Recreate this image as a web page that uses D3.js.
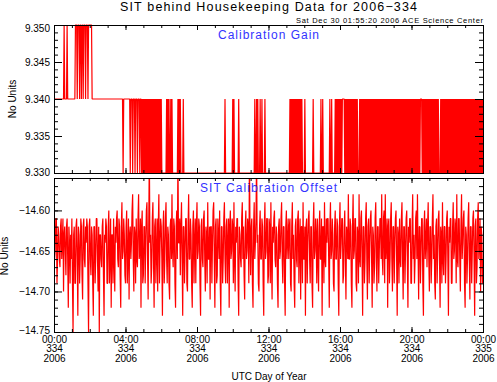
<!DOCTYPE html>
<html><head><meta charset="utf-8">
<script src="https://cdn.jsdelivr.net/npm/d3@7"></script>
<style>body{margin:0;background:#fff}svg{display:block}</style>
</head><body><svg id="c" width="497" height="382"></svg>
<script>
const titleText = "SIT behind Housekeeping Data for 2006\u2212334";
const subtitleText = "Sat Dec 30 01:55:20 2006 ACE Science Center";
const gainName = "Calibration Gain";
const offsetName = "SIT Calibration Offset";
const yTitle = "No Units";
const xTitle = "UTC Day of Year";
const hourTicks = [0, 4, 8, 12, 16, 20, 24];
const hourMinorTicks = [0,1,2,3,4,5,6,7,8,9,10,11,12,13,14,15,16,17,18,19,20,21,22,23,24];
const hourLabels = [["00:00","334","2006"],["04:00","334","2006"],["08:00","334","2006"],["12:00","334","2006"],["16:00","334","2006"],["20:00","334","2006"],["00:00","335","2006"]];
const gainTicks = [9.330, 9.335, 9.340, 9.345, 9.350];
const gainTickLabels = ["9.330", "9.335", "9.340", "9.345", "9.350"];
const offsetTicks = [-14.75, -14.70, -14.65, -14.60];
const offsetTickLabels = ["\u221214.75", "\u221214.70", "\u221214.65", "\u221214.60"];

// samples every 2 minutes, 00:00 to 24:00
const gainValues = [
9.34,9.34,9.34,9.34,9.34,9.34,9.34,9.34,9.34,9.34,9.34,9.34,9.34,9.34,9.34,9.34,9.34,9.35,9.34,9.34,
9.34,9.34,9.35,9.34,9.34,9.34,9.34,9.34,9.34,9.34,9.34,9.34,9.34,9.34,9.34,9.34,9.35,9.35,9.35,9.34,
9.35,9.35,9.35,9.34,9.35,9.35,9.34,9.35,9.35,9.34,9.35,9.35,9.35,9.34,9.35,9.35,9.35,9.34,9.35,9.35,
9.35,9.35,9.35,9.35,9.34,9.34,9.34,9.34,9.34,9.34,9.34,9.34,9.34,9.34,9.34,9.34,9.34,9.34,9.34,9.34,
9.34,9.34,9.34,9.34,9.34,9.34,9.34,9.34,9.34,9.34,9.34,9.34,9.34,9.34,9.34,9.34,9.34,9.34,9.34,9.34,
9.34,9.34,9.34,9.34,9.34,9.34,9.34,9.34,9.34,9.34,9.34,9.34,9.34,9.34,9.34,9.34,9.33,9.34,9.34,9.34,
9.34,9.34,9.34,9.34,9.34,9.34,9.34,9.34,9.33,9.34,9.34,9.34,9.33,9.34,9.34,9.34,9.33,9.34,9.34,9.34,
9.33,9.34,9.34,9.34,9.33,9.34,9.34,9.33,9.34,9.33,9.34,9.33,9.34,9.33,9.34,9.33,9.34,9.33,9.34,9.33,
9.34,9.33,9.34,9.33,9.34,9.33,9.34,9.33,9.34,9.33,9.34,9.33,9.34,9.33,9.34,9.33,9.34,9.33,9.34,9.33,
9.34,9.33,9.33,9.33,9.33,9.33,9.33,9.33,9.33,9.34,9.33,9.34,9.33,9.34,9.33,9.33,9.34,9.33,9.34,9.33,
9.33,9.33,9.33,9.33,9.33,9.33,9.33,9.33,9.34,9.33,9.34,9.33,9.34,9.33,9.33,9.33,9.33,9.34,9.33,9.33,
9.33,9.33,9.33,9.33,9.33,9.33,9.33,9.33,9.33,9.33,9.33,9.33,9.33,9.33,9.33,9.33,9.33,9.33,9.33,9.33,
9.33,9.33,9.33,9.33,9.33,9.33,9.33,9.33,9.33,9.33,9.33,9.33,9.33,9.33,9.33,9.33,9.33,9.33,9.33,9.33,
9.33,9.33,9.33,9.33,9.33,9.33,9.33,9.33,9.33,9.33,9.33,9.33,9.33,9.33,9.33,9.33,9.33,9.33,9.33,9.33,
9.33,9.33,9.33,9.33,9.33,9.33,9.33,9.34,9.33,9.33,9.33,9.33,9.33,9.33,9.33,9.33,9.33,9.33,9.33,9.33,
9.34,9.33,9.34,9.33,9.33,9.33,9.33,9.33,9.33,9.33,9.34,9.33,9.33,9.33,9.33,9.33,9.33,9.33,9.33,9.33,
9.33,9.33,9.33,9.33,9.33,9.33,9.33,9.33,9.33,9.33,9.33,9.33,9.33,9.33,9.33,9.33,9.33,9.34,9.33,9.33,
9.34,9.33,9.34,9.33,9.33,9.33,9.34,9.33,9.33,9.34,9.33,9.33,9.33,9.33,9.34,9.33,9.33,9.33,9.33,9.33,
9.33,9.33,9.33,9.33,9.33,9.33,9.33,9.33,9.33,9.33,9.33,9.33,9.33,9.33,9.33,9.33,9.33,9.33,9.33,9.33,
9.33,9.33,9.33,9.33,9.33,9.33,9.33,9.33,9.33,9.33,9.33,9.33,9.33,9.33,9.33,9.33,9.34,9.33,9.34,9.33,
9.34,9.33,9.34,9.33,9.34,9.33,9.34,9.33,9.34,9.33,9.34,9.33,9.34,9.33,9.34,9.33,9.34,9.33,9.33,9.33,
9.33,9.34,9.33,9.33,9.33,9.33,9.33,9.33,9.33,9.33,9.33,9.33,9.33,9.33,9.33,9.34,9.33,9.33,9.33,9.33,
9.33,9.33,9.33,9.33,9.33,9.33,9.33,9.33,9.34,9.33,9.33,9.34,9.33,9.33,9.33,9.33,9.33,9.33,9.33,9.33,
9.33,9.33,9.33,9.34,9.33,9.33,9.34,9.33,9.33,9.33,9.33,9.33,9.34,9.33,9.34,9.33,9.34,9.33,9.34,9.33,
9.34,9.33,9.34,9.33,9.34,9.34,9.34,9.34,9.33,9.34,9.33,9.34,9.33,9.34,9.33,9.34,9.33,9.34,9.33,9.34,
9.33,9.34,9.33,9.34,9.33,9.34,9.33,9.34,9.33,9.34,9.33,9.33,9.33,9.34,9.33,9.34,9.33,9.34,9.33,9.34,
9.33,9.34,9.33,9.34,9.33,9.34,9.33,9.34,9.33,9.34,9.33,9.34,9.33,9.34,9.33,9.34,9.33,9.34,9.33,9.34,
9.33,9.34,9.33,9.34,9.33,9.34,9.33,9.34,9.33,9.34,9.33,9.34,9.33,9.34,9.33,9.34,9.33,9.34,9.33,9.34,
9.33,9.34,9.33,9.34,9.33,9.34,9.33,9.34,9.33,9.34,9.33,9.34,9.33,9.34,9.33,9.34,9.33,9.34,9.33,9.34,
9.33,9.34,9.33,9.34,9.33,9.34,9.33,9.34,9.33,9.34,9.33,9.34,9.33,9.34,9.33,9.34,9.33,9.34,9.33,9.34,
9.33,9.34,9.33,9.34,9.33,9.34,9.33,9.34,9.33,9.34,9.33,9.34,9.33,9.34,9.33,9.34,9.34,9.34,9.33,9.34,
9.33,9.34,9.33,9.34,9.33,9.34,9.33,9.34,9.33,9.34,9.33,9.34,9.33,9.34,9.33,9.34,9.33,9.34,9.33,9.34,
9.33,9.34,9.33,9.34,9.33,9.34,9.33,9.33,9.33,9.34,9.33,9.34,9.33,9.34,9.33,9.34,9.33,9.34,9.33,9.34,
9.33,9.34,9.33,9.34,9.33,9.34,9.33,9.34,9.33,9.34,9.33,9.34,9.33,9.34,9.33,9.34,9.33,9.34,9.33,9.34,
9.33,9.34,9.33,9.34,9.33,9.34,9.33,9.34,9.33,9.34,9.33,9.34,9.33,9.34,9.33,9.34,9.33,9.34,9.33,9.34,
9.33,9.34,9.33,9.34,9.33,9.34,9.33,9.34,9.33,9.34,9.33,9.34,9.33,9.34,9.33,9.34,9.33,9.34,9.33,9.34,
9.33];

const offsetValues = [
-14.62,-14.66,-14.65,-14.61,-14.61,-14.69,-14.66,-14.62,-14.63,-14.66,-14.67,-14.62,-14.61,-14.66,-14.64,-14.61,-14.70,-14.63,-14.62,-14.65,
-14.68,-14.62,-14.61,-14.66,-14.72,-14.62,-14.64,-14.69,-14.63,-14.66,-14.61,-14.69,-14.75,-14.63,-14.62,-14.69,-14.69,-14.62,-14.61,-14.66,
-14.73,-14.62,-14.63,-14.69,-14.66,-14.61,-14.62,-14.68,-14.71,-14.62,-14.61,-14.66,-14.67,-14.62,-14.64,-14.61,-14.62,-14.69,-14.75,-14.62,
-14.61,-14.66,-14.68,-14.62,-14.63,-14.69,-14.73,-14.62,-14.62,-14.69,-14.66,-14.61,-14.61,-14.66,-14.70,-14.62,-14.75,-14.63,-14.63,-14.66,
-14.67,-14.62,-14.61,-14.68,-14.73,-14.63,-14.64,-14.61,-14.62,-14.69,-14.69,-14.62,-14.60,-14.69,-14.66,-14.61,-14.72,-14.63,-14.63,-14.69,
-14.61,-14.66,-14.70,-14.62,-14.64,-14.61,-14.60,-14.66,-14.67,-14.61,-14.62,-14.68,-14.72,-14.62,-14.59,-14.66,-14.65,-14.61,-14.63,-14.68,
-14.69,-14.62,-14.60,-14.69,-14.66,-14.61,-14.71,-14.63,-14.62,-14.66,-14.64,-14.60,-14.58,-14.66,-14.70,-14.62,-14.63,-14.69,-14.61,-14.66,
-14.67,-14.61,-14.58,-14.66,-14.65,-14.61,-14.72,-14.62,-14.60,-14.69,-14.68,-14.62,-14.62,-14.69,-14.64,-14.60,-14.59,-14.66,-14.71,-14.62,
-14.53,-14.64,-14.63,-14.69,-14.67,-14.61,-14.59,-14.66,-14.72,-14.62,-14.61,-14.69,-14.65,-14.61,-14.70,-14.62,-14.58,-14.69,-14.64,-14.61,
-14.62,-14.66,-14.73,-14.62,-14.60,-14.69,-14.66,-14.61,-14.59,-14.66,-14.69,-14.62,-14.63,-14.69,-14.71,-14.62,-14.61,-14.66,-14.58,-14.65,
-14.67,-14.61,-14.62,-14.69,-14.72,-14.62,-14.60,-14.66,-14.53,-14.64,-14.64,-14.61,-14.68,-14.62,-14.59,-14.66,-14.73,-14.62,-14.62,-14.69,
-14.65,-14.61,-14.61,-14.69,-14.70,-14.62,-14.58,-14.66,-14.66,-14.61,-14.63,-14.69,-14.72,-14.62,-14.60,-14.69,-14.64,-14.61,-14.69,-14.62,
-14.59,-14.66,-14.65,-14.61,-14.62,-14.69,-14.73,-14.62,-14.61,-14.66,-14.67,-14.61,-14.60,-14.66,-14.70,-14.62,-14.63,-14.69,-14.59,-14.66,
-14.66,-14.62,-14.71,-14.62,-14.62,-14.69,-14.64,-14.60,-14.59,-14.66,-14.72,-14.62,-14.61,-14.69,-14.68,-14.61,-14.63,-14.66,-14.60,-14.69,
-14.73,-14.62,-14.62,-14.69,-14.66,-14.61,-14.59,-14.66,-14.69,-14.62,-14.61,-14.69,-14.64,-14.61,-14.72,-14.62,-14.60,-14.66,-14.65,-14.61,
-14.62,-14.69,-14.59,-14.66,-14.70,-14.62,-14.64,-14.61,-14.61,-14.69,-14.73,-14.62,-14.63,-14.66,-14.67,-14.61,-14.59,-14.66,-14.62,-14.68,
-14.71,-14.62,-14.60,-14.66,-14.65,-14.61,-14.62,-14.69,-14.53,-14.63,-14.68,-14.62,-14.61,-14.69,-14.72,-14.62,-14.59,-14.66,-14.64,-14.61,
-14.53,-14.64,-14.63,-14.69,-14.70,-14.62,-14.60,-14.66,-14.66,-14.61,-14.62,-14.69,-14.73,-14.62,-14.59,-14.66,-14.65,-14.61,-14.61,-14.69,
-14.68,-14.61,-14.62,-14.69,-14.59,-14.66,-14.71,-14.62,-14.64,-14.61,-14.60,-14.66,-14.67,-14.62,-14.63,-14.69,-14.72,-14.62,-14.61,-14.66,
-14.65,-14.61,-14.59,-14.66,-14.69,-14.62,-14.62,-14.69,-14.73,-14.62,-14.60,-14.66,-14.64,-14.61,-14.66,-14.62,-14.61,-14.69,-14.70,-14.62,
-14.59,-14.66,-14.63,-14.69,-14.72,-14.62,-14.61,-14.66,-14.67,-14.61,-14.60,-14.69,-14.64,-14.61,-14.71,-14.62,-14.62,-14.69,-14.59,-14.66,
-14.66,-14.62,-14.73,-14.62,-14.61,-14.69,-14.64,-14.61,-14.60,-14.66,-14.69,-14.62,-14.62,-14.69,-14.72,-14.62,-14.59,-14.66,-14.65,-14.61,
-14.63,-14.69,-14.61,-14.66,-14.70,-14.62,-14.60,-14.66,-14.66,-14.61,-14.73,-14.62,-14.62,-14.69,-14.59,-14.66,-14.67,-14.61,-14.64,-14.61,
-14.61,-14.66,-14.72,-14.62,-14.59,-14.66,-14.65,-14.61,-14.63,-14.69,-14.70,-14.62,-14.60,-14.66,-14.66,-14.61,-14.62,-14.69,-14.73,-14.62,
-14.59,-14.66,-14.64,-14.61,-14.61,-14.69,-14.68,-14.62,-14.60,-14.66,-14.71,-14.62,-14.63,-14.66,-14.58,-14.66,-14.66,-14.61,-14.62,-14.69,
-14.72,-14.62,-14.58,-14.66,-14.65,-14.61,-14.61,-14.69,-14.70,-14.62,-14.63,-14.69,-14.58,-14.66,-14.67,-14.61,-14.60,-14.66,-14.73,-14.62,
-14.62,-14.69,-14.66,-14.61,-14.59,-14.66,-14.71,-14.62,-14.61,-14.69,-14.64,-14.61,-14.60,-14.66,-14.72,-14.62,-14.63,-14.69,-14.67,-14.61,
-14.59,-14.66,-14.70,-14.62,-14.62,-14.69,-14.65,-14.61,-14.61,-14.66,-14.58,-14.66,-14.68,-14.61,-14.60,-14.69,-14.58,-14.66,-14.64,-14.61,
-14.72,-14.62,-14.61,-14.69,-14.66,-14.61,-14.59,-14.66,-14.70,-14.62,-14.62,-14.69,-14.64,-14.61,-14.60,-14.66,-14.73,-14.62,-14.63,-14.69,
-14.61,-14.66,-14.67,-14.61,-14.59,-14.66,-14.71,-14.62,-14.62,-14.69,-14.65,-14.61,-14.60,-14.66,-14.72,-14.62,-14.64,-14.61,-14.61,-14.69,
-14.69,-14.62,-14.58,-14.66,-14.63,-14.69,-14.66,-14.61,-14.60,-14.66,-14.58,-14.65,-14.71,-14.62,-14.62,-14.69,-14.65,-14.61,-14.61,-14.69,
-14.73,-14.62,-14.60,-14.66,-14.64,-14.61,-14.67,-14.62,-14.59,-14.66,-14.70,-14.62,-14.62,-14.69,-14.66,-14.61,-14.58,-14.66,-14.63,-14.69,
-14.71,-14.62,-14.61,-14.69,-14.65,-14.61,-14.60,-14.66,-14.72,-14.62,-14.63,-14.69,-14.59,-14.66,-14.68,-14.62,-14.62,-14.69,-14.66,-14.61,
-14.60,-14.66,-14.73,-14.62,-14.64,-14.61,-14.61,-14.69,-14.69,-14.62,-14.59,-14.66,-14.65,-14.61,-14.62,-14.69,-14.58,-14.66,-14.67,-14.61,
-14.61,-14.66,-14.70,-14.62,-14.58,-14.66,-14.64,-14.61,-14.60,-14.69,-14.72,-14.62,-14.63,-14.69,-14.66,-14.61,-14.59,-14.66,-14.71,-14.62,
-14.62,-14.69,-14.65,-14.61,-14.60,-14.66,-14.73,-14.62,-14.61,-14.69,-14.67,-14.61,-14.59,-14.66,-14.64,-14.61,-14.70,-14.62,-14.63,-14.69,
-14.66];

const FONT = "'Liberation Sans', Arial, Helvetica, sans-serif";
const svg = d3.select("#c");

const x = d3.scaleLinear().domain([0, 24]).range([54, 483]);
const yG = d3.scaleLinear().domain([9.33, 9.35]).range([173, 25]);
const yO = d3.scaleLinear().domain([-14.75, -14.56]).range([332, 178]);

const gainMinor = d3.range(0, 21).map(k => +(9.33 + k * 0.001).toFixed(3));
const offsetMinor = d3.range(0, 20).map(k => +(-14.75 + k * 0.01).toFixed(2));

const defs = svg.append("defs");
defs.append("clipPath").attr("id", "clipTop").append("rect").attr("x", 54).attr("y", 24).attr("width", 430).attr("height", 151);
defs.append("clipPath").attr("id", "clipBot").append("rect").attr("x", 54).attr("y", 178).attr("width", 430).attr("height", 155);

function panel(y, top, bottom, major, labels, minor, clipId, values, labelShift) {
  const n = values.length;
  svg.append("path").datum(values)
    .attr("clip-path", `url(#${clipId})`)
    .attr("fill", "none").attr("stroke", "#ff0000").attr("stroke-width", 1.2)
    .attr("stroke-linejoin", "bevel")
    .attr("d", d3.line().x((d, i) => x(i * 24 / (n - 1))).y(d => y(d)));
  svg.append("path")
    .attr("d", `M54.5,${top}H483.5V${bottom}H54.5Z`)
    .attr("fill", "none").attr("stroke", "#000").attr("stroke-width", 1)
    .attr("shape-rendering", "crispEdges");
  const style = g => { g.select(".domain").remove(); g.selectAll("line").attr("stroke", "#000"); g.attr("font-family", FONT).attr("font-size", 10); };
  const gl = svg.append("g").attr("transform", "translate(54,0)")
    .call(d3.axisLeft(y).tickValues(major).tickSize(-8).tickPadding(4).tickFormat((d, i) => labels[i]))
    .call(style);
  gl.selectAll("text").attr("fill", "#000").attr("dy", (d, i) => (0.32 * 10 + labelShift[i]) + "px");
  svg.append("g").attr("transform", "translate(54,0)")
    .call(d3.axisLeft(y).tickValues(minor).tickSize(-4).tickFormat("")).call(style);
  svg.append("g").attr("transform", "translate(483,0)")
    .call(d3.axisRight(y).tickValues(major).tickSize(-8).tickFormat("")).call(style);
  svg.append("g").attr("transform", "translate(483,0)")
    .call(d3.axisRight(y).tickValues(minor).tickSize(-4).tickFormat("")).call(style);
  svg.append("g").attr("transform", `translate(0,${bottom - 0.5})`)
    .call(d3.axisBottom(x).tickValues(hourTicks).tickSize(-5).tickFormat("")).call(style);
  svg.append("g").attr("transform", `translate(0,${bottom - 0.5})`)
    .call(d3.axisBottom(x).tickValues(hourMinorTicks).tickSize(-3).tickFormat("")).call(style);
  svg.append("g").attr("transform", `translate(0,${top - 0.5})`)
    .call(d3.axisTop(x).tickValues(hourTicks).tickSize(-5).tickFormat("")).call(style);
  svg.append("g").attr("transform", `translate(0,${top - 0.5})`)
    .call(d3.axisTop(x).tickValues(hourMinorTicks).tickSize(-3).tickFormat("")).call(style);
}

panel(yG, 25.5, 173.5, gainTicks, gainTickLabels, gainMinor, "clipTop", gainValues, [-1, 0, 0, 0, 3]);
panel(yO, 178.5, 332.5, offsetTicks, offsetTickLabels, offsetMinor, "clipBot", offsetValues, [-2, 0, 0, 0]);

const xl = svg.append("g").attr("font-family", FONT).attr("font-size", 10).attr("fill", "#000").attr("text-anchor", "middle");
hourTicks.forEach((h, i) => {
  [343, 352.2, 361.5].forEach((by, j) => {
    xl.append("text").attr("x", x(h) + 0.5).attr("y", by).text(hourLabels[i][j]);
  });
});

svg.append("text").attr("x", 268.5).attr("y", 11).attr("text-anchor", "middle")
  .attr("font-family", FONT).attr("font-size", 12.5).attr("fill", "#000")
  .attr("textLength", 297).attr("lengthAdjust", "spacing").text(titleText);
svg.append("text").attr("x", 296).attr("y", 23)
  .attr("font-family", FONT).attr("font-size", 7.5).attr("fill", "#000")
  .attr("textLength", 187).attr("lengthAdjust", "spacing").text(subtitleText);
svg.append("text").attr("x", 218).attr("y", 39)
  .attr("font-family", FONT).attr("font-size", 12).attr("fill", "#3333ff")
  .attr("textLength", 101).attr("lengthAdjust", "spacing").text(gainName);
svg.append("text").attr("x", 200).attr("y", 192)
  .attr("font-family", FONT).attr("font-size", 12).attr("fill", "#3333ff")
  .attr("textLength", 137).attr("lengthAdjust", "spacing").text(offsetName);
svg.append("text").attr("transform", "translate(15.7,99) rotate(-90)").attr("text-anchor", "middle")
  .attr("font-family", FONT).attr("font-size", 10).attr("fill", "#000").text(yTitle);
svg.append("text").attr("transform", "translate(7.5,256) rotate(-90)").attr("text-anchor", "middle")
  .attr("font-family", FONT).attr("font-size", 10).attr("fill", "#000").text(yTitle);
svg.append("text").attr("x", 269).attr("y", 379.5).attr("text-anchor", "middle")
  .attr("font-family", FONT).attr("font-size", 10).attr("fill", "#000").text(xTitle);
</script>
</body></html>
